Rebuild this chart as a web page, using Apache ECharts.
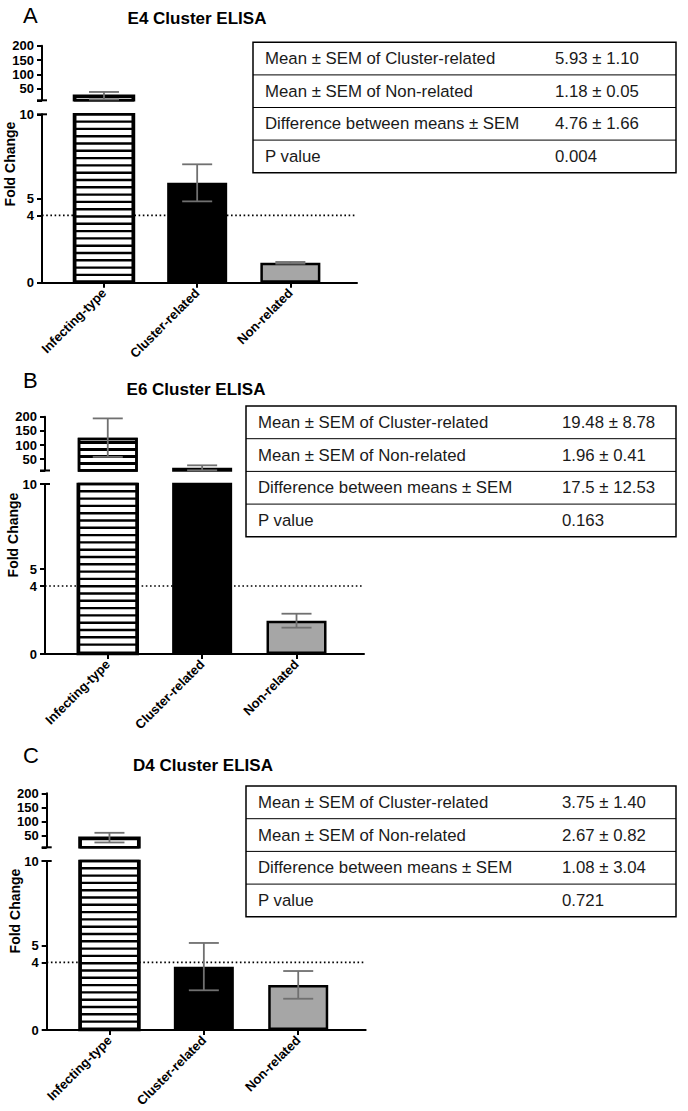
<!DOCTYPE html>
<html><head><meta charset="utf-8">
<script src="https://cdn.jsdelivr.net/npm/echarts@6/dist/echarts.min.js"></script>
<style>html,body{margin:0;padding:0;background:#fff}#c{width:688px;height:1111px}</style>
</head><body><div id="c"></div>
<script>
// ---------------- DATA ----------------
const categories = ['Infecting-type', 'Cluster-related', 'Non-related'];
const titles = ['E4 Cluster ELISA', 'E6 Cluster ELISA', 'D4 Cluster ELISA'];
const letters = ['A', 'B', 'C'];

const e4Mean = [26, 5.93, 1.18];
const e4Sem = [13, 1.10, 0.05];
const e6Mean = [126, 19.48, 1.96];
const e6Sem = [68, 8.78, 0.41];
const d4Mean = [44, 3.75, 2.67];
const d4Sem = [17, 1.40, 0.82];

const upperTicks = [50, 100, 150, 200];
const lowerTicks = [0, 4, 5, 10];
const breakValue = 10;
const upperMax = 200;
const threshold = 4;

const tableLabels = ['Mean ± SEM of Cluster-related', 'Mean ± SEM of Non-related', 'Difference between means ± SEM', 'P value'];
const e4Table = ['5.93 ± 1.10', '1.18 ± 0.05', '4.76 ± 1.66', '0.004'];
const e6Table = ['19.48 ± 8.78', '1.96 ± 0.41', '17.5 ± 12.53', '0.163'];
const d4Table = ['3.75 ± 1.40', '2.67 ± 0.82', '1.08 ± 3.04', '0.721'];

const yName = 'Fold Change';

// ---------------- LAYOUT ----------------
const FONT = '"Liberation Sans", Arial, Helvetica, sans-serif';
const X_MIN = -0.665, X_MAX = 2.715;
const BAR_W = 60;
const layout = [
  {axisX: 42, width: 315, upTop: 45.7, upBot: 100.3, loTop: 114.3, loBot: 282.7,
   titleX: 197, titleY: 18, letterY: 15, nameY: 164,
   tab: {x: 253, y: 42.3, w: 423, rowH: 32.6, valX: 555}},
  {axisX: 45, width: 319, upTop: 416.7, upBot: 470.5, loTop: 484, loBot: 654,
   titleX: 196, titleY: 389, letterY: 380, nameY: 535,
   tab: {x: 246, y: 406, w: 430, rowH: 32.7, valX: 562}},
  {axisX: 46.7, width: 319, upTop: 793.3, upBot: 847.3, loTop: 861, loBot: 1030,
   titleX: 203, titleY: 765, letterY: 755, nameY: 911,
   tab: {x: 246, y: 786, w: 430, rowH: 32.7, valX: 562}}
];

const panels = [
  {title: titles[0], letter: letters[0], mean: e4Mean, sem: e4Sem, table: e4Table},
  {title: titles[1], letter: letters[1], mean: e6Mean, sem: e6Sem, table: e6Table},
  {title: titles[2], letter: letters[2], mean: d4Mean, sem: d4Sem, table: d4Table}
];

const hatchDecal = {symbol: 'rect', symbolSize: 1, color: '#000', dashArrayX: [10, 0], dashArrayY: [3, 4], rotation: 0};
const barStyles = [
  {color: '#ffffff', borderColor: '#000', borderWidth: 2.5},
  {color: '#000000', borderColor: '#000', borderWidth: 2.5},
  {color: '#a6a6a6', borderColor: '#000', borderWidth: 2.5}
];

// horizontal hatching of the striped bar, clipped to its grid
function stripeRenderItem(params, api) {
  const cs = params.coordSys;
  const i = api.value(0), v = api.value(1);
  const p1 = api.coord([i, v]);
  const p0 = api.coord([i, 0]);
  const x = p1[0];
  const top = Math.max(Math.min(p1[1], p0[1]), cs.y);
  const bot = Math.min(Math.max(p1[1], p0[1]), cs.y + cs.height);
  if (!(bot > top)) return null;
  const left = x - BAR_W / 2;
  const ch = [];
  for (let y = top + 7.3; y + 2.4 < bot - 2; y += 7.3) {
    ch.push({type: 'rect', shape: {x: left, y: y - 1.2, width: BAR_W, height: 2.4}, style: {fill: '#000', stroke: null}});
  }
  ch.push({type: 'rect', shape: {x: left, y: top, width: BAR_W, height: bot - top},
    style: {fill: null, stroke: '#000', lineWidth: 2.5}});
  return {type: 'group', children: ch};
}

function errRenderItem(params, api) {
  const cs = params.coordSys;
  const i = api.value(0), m = api.value(1), s = api.value(2);
  const x = api.coord([i, m])[0];
  const yHi = api.coord([i, m + s])[1];
  const yLo = api.coord([i, m - s])[1];
  const top = cs.y, bot = cs.y + cs.height;
  const y1 = Math.max(yHi, top), y2 = Math.min(yLo, bot);
  const st = {stroke: '#707070', lineWidth: 1.8};
  const ch = [];
  if (y1 < y2) ch.push({type: 'line', shape: {x1: x, y1: y1, x2: x, y2: y2}, style: st});
  const hw = 15;
  if (yHi >= top && yHi <= bot) ch.push({type: 'line', shape: {x1: x - hw, y1: yHi, x2: x + hw, y2: yHi}, style: st});
  if (yLo >= top && yLo <= bot) ch.push({type: 'line', shape: {x1: x - hw, y1: yLo, x2: x + hw, y2: yLo}, style: st});
  return {type: 'group', children: ch};
}

function breakRenderItem(params, api) {
  const cs = params.coordSys;
  const y = api.coord([0, api.value(1)])[1];
  return {type: 'line', shape: {x1: cs.x - 5, y1: y, x2: cs.x + 5, y2: y},
          style: {stroke: '#000', lineWidth: 2}};
}

const grids = [], xAxes = [], yAxes = [], series = [], graphics = [];
const axisLineStyle = {color: '#000', width: 2};

panels.forEach((p, k) => {
  const L = layout[k];
  const gu = 2 * k, gl = 2 * k + 1;
  grids.push({left: L.axisX, top: L.upTop, width: L.width, height: L.upBot - L.upTop});
  grids.push({left: L.axisX, top: L.loTop, width: L.width, height: L.loBot - L.loTop});

  xAxes.push({type: 'value', gridIndex: gu, min: X_MIN, max: X_MAX, show: false});
  xAxes.push({type: 'value', gridIndex: gl, min: X_MIN, max: X_MAX,
    axisLine: {show: true, onZero: false, lineStyle: axisLineStyle},
    axisTick: {show: true, customValues: [0, 1, 2], length: 5, lineStyle: {color: '#000', width: 2}},
    axisLabel: {show: true, customValues: [0, 1, 2], rotate: 45, margin: 8,
      formatter: v => categories[Math.round(v)] || '',
      fontFamily: FONT, fontWeight: 'bold', fontSize: 13, color: '#000'},
    splitLine: {show: false}});

  yAxes.push({type: 'value', gridIndex: gu, min: breakValue, max: upperMax,
    axisLine: {show: true, onZero: false, lineStyle: axisLineStyle},
    axisTick: {show: true, customValues: [breakValue].concat(upperTicks), length: 5, lineStyle: {color: '#000', width: 2}},
    axisLabel: {show: true, customValues: upperTicks, margin: 8, fontFamily: FONT, fontWeight: 'bold', fontSize: 13, color: '#000'},
    splitLine: {show: false}});
  yAxes.push({type: 'value', gridIndex: gl, min: 0, max: breakValue,
    axisLine: {show: true, onZero: false, lineStyle: axisLineStyle},
    axisTick: {show: true, customValues: lowerTicks, length: 5, lineStyle: {color: '#000', width: 2}},
    axisLabel: {show: true, customValues: lowerTicks, margin: 8, fontFamily: FONT, fontWeight: 'bold', fontSize: 13, color: '#000'},
    splitLine: {show: false}});

  [gu, gl].forEach(g => {
    const isUpper = g === gu;
    // tall upper piece of the hatched bar: hatch it with a decal pattern
    const tallUpper = isUpper && (p.mean[0] - breakValue) / (upperMax - breakValue) > 0.3;
    const barData = p.mean.map((v, i) => {
      const st = (i === 0 && tallUpper) ? Object.assign({}, barStyles[0], {decal: hatchDecal}) : barStyles[i];
      return {value: [i, v], itemStyle: st};
    });
    const stripeData = tallUpper ? [] : [[0, p.mean[0]]];
    const errData = p.mean.map((v, i) => [i, v, p.sem[i]]);
    series.push({type: 'bar', xAxisIndex: g, yAxisIndex: g, data: barData, barWidth: BAR_W, clip: true, z: 2});
    series.push({type: 'custom', xAxisIndex: g, yAxisIndex: g, data: stripeData, renderItem: stripeRenderItem,
      encode: {x: 0, y: 1}, z: 3});
    series.push({type: 'custom', xAxisIndex: g, yAxisIndex: g, data: errData, renderItem: errRenderItem,
      encode: {x: 0, y: 1}, z: 4});
    series.push({type: 'custom', xAxisIndex: g, yAxisIndex: g, data: [[0, breakValue]], renderItem: breakRenderItem,
      encode: {x: 0, y: 1}, z: 5});
  });
  series.push({type: 'line', xAxisIndex: gl, yAxisIndex: gl, data: [[X_MIN, threshold], [X_MAX, threshold]],
    symbol: 'none', z: 1,
    lineStyle: {color: '#000', width: 1.6, type: [1.6, 2.6], cap: 'butt'}});

  graphics.push({type: 'text', x: 23, y: L.letterY, style: {text: p.letter, font: '22px ' + FONT, fill: '#000',
    textAlign: 'left', textVerticalAlign: 'middle', verticalAlign: 'middle'}});
  graphics.push({type: 'text', x: L.titleX, y: L.titleY, style: {text: p.title, font: 'bold 17px ' + FONT, fill: '#000',
    textAlign: 'center', textVerticalAlign: 'middle', verticalAlign: 'middle'}});
  graphics.push({type: 'text', x: L.axisX - 32, y: L.nameY, rotation: Math.PI / 2,
    style: {text: yName, font: 'bold 14px ' + FONT, fill: '#000', textAlign: 'center', textVerticalAlign: 'middle', verticalAlign: 'middle'}});

  const T = L.tab;
  graphics.push({type: 'rect', shape: {x: T.x, y: T.y, width: T.w, height: T.rowH * tableLabels.length},
    style: {fill: '#fff', stroke: '#000', lineWidth: 1.5}, z: 10});
  tableLabels.forEach((lab, r) => {
    const cy = T.y + T.rowH * (r + 0.5);
    if (r > 0) graphics.push({type: 'line', shape: {x1: T.x, y1: T.y + T.rowH * r, x2: T.x + T.w, y2: T.y + T.rowH * r},
      style: {stroke: '#000', lineWidth: 1}, z: 11});
    graphics.push({type: 'text', x: T.x + 12, y: cy, z: 12, style: {text: lab, font: '16.8px ' + FONT, fill: '#1a1a1a',
      textAlign: 'left', textVerticalAlign: 'middle', verticalAlign: 'middle'}});
    graphics.push({type: 'text', x: T.valX, y: cy, z: 12, style: {text: p.table[r], font: '16.8px ' + FONT, fill: '#1a1a1a',
      textAlign: 'left', textVerticalAlign: 'middle', verticalAlign: 'middle'}});
  });
});

const chart = echarts.init(document.getElementById('c'), null, {renderer: 'svg', width: 688, height: 1111});
chart.setOption({
  animation: false,
  backgroundColor: '#fff',
  grid: grids, xAxis: xAxes, yAxis: yAxes, series: series, graphic: graphics
});
</script></body></html>
